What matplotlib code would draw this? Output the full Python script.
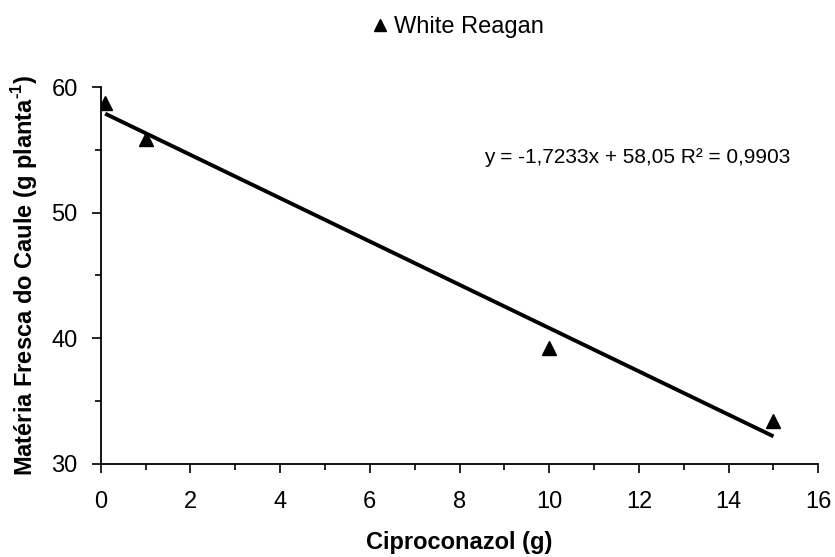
import matplotlib
matplotlib.use("Agg")
import matplotlib.pyplot as plt
import numpy as np
from matplotlib.ticker import MultipleLocator

plt.rcParams["font.family"] = ["Liberation Sans", "DejaVu Sans"]
plt.rcParams["mathtext.fontset"] = "custom"
plt.rcParams["mathtext.rm"] = "Liberation Sans:bold"
plt.rcParams["mathtext.bf"] = "Liberation Sans:bold"

# data
dose = [0.1, 1, 10, 15]
fresh_mass = [58.7, 55.9, 39.2, 33.4]
series_label = "White Reagan"

# linear fit as printed on the chart
slope = -1.7233
intercept = 58.05
r2 = 0.9903
eq_text = "y = -1,7233x + 58,05 R² = 0,9903"

fig = plt.figure(figsize=(8.35, 5.57), dpi=100)
ax = fig.add_axes([0.1206, 0.1670, 0.8594, 0.6768])

fit_x = np.array([min(dose), max(dose)])
ax.plot(fit_x, slope * fit_x + intercept, color="black", linewidth=2.8,
        solid_capstyle="butt")
ax.plot(dose, fresh_mass, linestyle="none", marker="^", markersize=9.5,
        color="black", label=series_label)

ax.set_xlim(0, 16)
ax.set_ylim(30, 60)
ax.xaxis.set_major_locator(MultipleLocator(2))
ax.xaxis.set_minor_locator(MultipleLocator(1))
ax.yaxis.set_major_locator(MultipleLocator(10))
ax.yaxis.set_minor_locator(MultipleLocator(5))

for side in ("top", "right"):
    ax.spines[side].set_visible(False)
for side in ("left", "bottom"):
    ax.spines[side].set_linewidth(1.3)

ax.tick_params(axis="both", which="major", direction="out", length=6.5,
               width=1.2, labelsize=17)
ax.tick_params(axis="both", which="minor", direction="out", length=4.5,
               width=1.2)
ax.tick_params(axis="x", which="major", pad=13)
ax.tick_params(axis="y", which="major", pad=10)

ax.set_xlabel("Ciproconazol (g)", fontsize=17, fontweight="bold", labelpad=13)
ax.set_ylabel(r"Matéria Fresca do Caule (g planta$^{\text{-1}}$)",
              fontsize=17, fontweight="bold", labelpad=8)

ax.text(8.55, 54.4, eq_text, fontsize=15, ha="left", va="center")

ax.legend(loc="center", bbox_to_anchor=(0.498, 1.159), frameon=False,
          fontsize=17, handlelength=0.6, handletextpad=0.3, numpoints=1,
          markerscale=0.9)

fig.savefig("out.png", dpi=100)
